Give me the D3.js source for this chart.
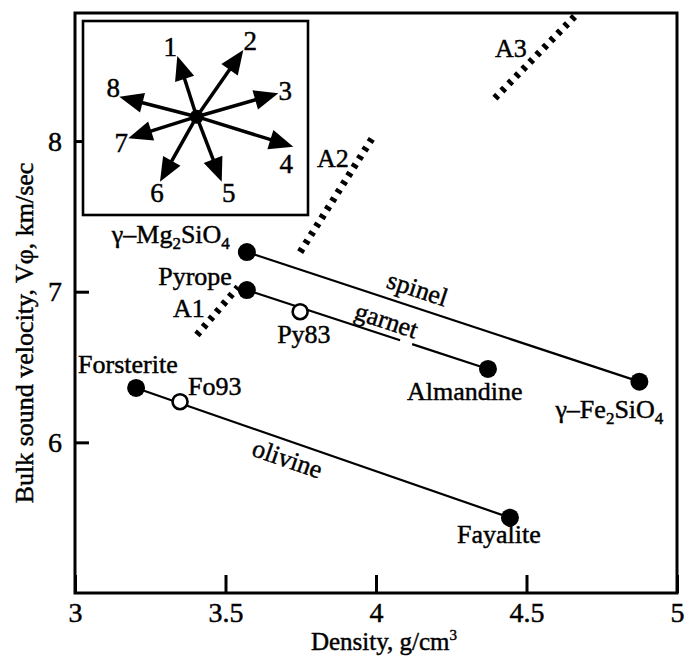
<!DOCTYPE html>
<html>
<head>
<meta charset="utf-8">
<script src="https://cdn.jsdelivr.net/npm/d3@7"></script>
<style>
  html, body { margin: 0; padding: 0; background: #fff; }
  svg { display: block; }
  text { font-family: 'Liberation Serif', 'DejaVu Serif', serif; fill: #000; stroke: #000; stroke-width: 0.45px; }
</style>
</head>
<body>
<div id="canvas"></div>
<script>
/*
 * Data
 *
 */
// end members and intermediate compositions: density (g/cm3), bulk sound velocity (km/s)
const minerals = ['γ–Mg_2SiO_4', 'Pyrope', 'Py83', 'Forsterite', 'Fo93', 'Almandine', 'γ–Fe_2SiO_4', 'Fayalite'];
const density  = [3.571, 3.571, 3.748, 3.203, 3.349, 4.372, 4.875, 4.445];
const velocity = [7.263, 7.011, 6.867, 6.361, 6.270, 6.487, 6.403, 5.500];
const filled   = [true, true, false, true, false, true, true, true];

// solid solution joins (indexes into minerals)
const joinNames = ['spinel', 'garnet', 'olivine'];
const joinFrom = [0, 1, 3];
const joinTo = [6, 5, 7];

// thick dashed trends A1..A3, [density, velocity] at each end
const trendNames = ['A1', 'A2', 'A3'];
const trendStart = [[3.405, 6.713], [3.748, 7.263], [4.395, 8.285]];
const trendEnd   = [[3.542, 7.031], [3.990, 8.027], [4.671, 8.850]];

// inset: direction arrows, components in inset units
const arrowLabels = ['1', '2', '3', '4', '5', '6', '7', '8'];
const arrowDX = [-0.194, 0.466, 0.816, 0.966, 0.250, -0.367, -0.684, -0.774];
const arrowDY = [0.607, 0.667, 0.234, -0.300, -0.650, -0.650, -0.216, 0.200];

const xTicks = [3, 3.5, 4, 4.5, 5];
const yTicks = [6, 7, 8];

/*
 * Layout
 *
 */
const margin = { top: 13, left: 75, right: 13, bottom: 67 };
const svgWidth = 690,
  svgHeight = 660,
  width = svgWidth - margin.left - margin.right,
  height = svgHeight - margin.top - margin.bottom;

const svg = d3.select('#canvas').append('svg')
  .attr('width', svgWidth)
  .attr('height', svgHeight);

const g = svg.append('g')
  .attr('transform', `translate(${margin.left}, ${margin.top})`);

const xScale = d3.scaleLinear().domain([3, 5]).range([0, width]);
const yScale = d3.scaleLinear().domain([5, 8.85]).range([height, 0]);

// label offsets (px) from each point
const labelPos = [
  { dx: -17, dy: -9, anchor: 'end' },
  { dx: -15, dy: -5, anchor: 'end' },
  { dx: -23, dy: 31, anchor: 'start' },
  { dx: -58, dy: -15, anchor: 'start' },
  { dx: 8, dy: -7, anchor: 'start' },
  { dx: -81, dy: 31, anchor: 'start' },
  { dx: -84, dy: 36, anchor: 'start' },
  { dx: -53, dy: 25, anchor: 'start' }
];
// where the join labels sit: fraction along the line, baseline offset
const joinLabelPos = [{ t: 0.42, off: -10 }, { t: 0.56, off: -6 }, { t: 0.42, off: 26 }];
const trendLabelPos = [{ dx: -24, dy: -18, end: false }, { dx: -56, dy: 30, end: true }, { dx: 0, dy: -41, end: false }];

/*
 * Axes
 *
 */
const xAxis = g.append('g')
  .attr('transform', `translate(0,${height})`)
  .call(d3.axisBottom(xScale).tickValues(xTicks).tickSize(-18).tickPadding(9)
    .tickFormat(d3.format('')));
const yAxis = g.append('g')
  .call(d3.axisLeft(yScale).tickValues(yTicks).tickSize(-14).tickPadding(13)
    .tickFormat(d3.format('')));

[xAxis, yAxis].forEach(a => {
  a.select('.domain').remove();
  a.selectAll('line').attr('stroke', '#000').attr('stroke-width', 3);
  a.selectAll('text')
    .style('font-family', "'Liberation Serif', serif")
    .style('font-size', '28px')
    .attr('fill', '#000');
});

g.append('rect')
  .attr('width', width)
  .attr('height', height)
  .attr('fill', 'none')
  .attr('stroke', '#000')
  .attr('stroke-width', 3);

svg.append('text')
  .attr('x', margin.left + 309)
  .attr('y', 650)
  .attr('text-anchor', 'middle')
  .style('font-size', '25px')
  .text('Density, g/cm')
  .append('tspan')
  .attr('dy', -10)
  .style('font-size', '15px')
  .text('3');

svg.append('text')
  .attr('transform', 'translate(33,333) rotate(-90)')
  .attr('text-anchor', 'middle')
  .style('font-size', '26px')
  .text('Bulk sound velocity, Vφ, km/sec');

/*
 * Dashed trends
 *
 */
const trends = g.append('g');
trendNames.forEach((name, i) => {
  trends.append('line')
    .attr('x1', xScale(trendStart[i][0]))
    .attr('y1', yScale(trendStart[i][1]))
    .attr('x2', xScale(trendEnd[i][0]))
    .attr('y2', yScale(trendEnd[i][1]))
    .attr('stroke', '#000')
    .attr('stroke-width', 7)
    .attr('stroke-dasharray', '4,6');
  const p = trendLabelPos[i];
  const ref = p.end ? trendEnd[i] : trendStart[i];
  trends.append('text')
    .attr('x', xScale(ref[0]) + p.dx)
    .attr('y', yScale(ref[1]) + p.dy)
    .style('font-size', '26px')
    .text(name);
});

/*
 * Solid solution joins
 *
 */
const garnetGap = [4.08, 4.12];
const joinsG = g.append('g');
joinNames.forEach((name, i) => {
  const a = joinFrom[i], b = joinTo[i];
  const x1 = xScale(density[a]), y1 = yScale(velocity[a]);
  const x2 = xScale(density[b]), y2 = yScale(velocity[b]);
  const line = joinsG.append('line')
    .attr('x1', x1).attr('y1', y1).attr('x2', x2).attr('y2', y2)
    .attr('stroke', '#000')
    .attr('stroke-width', 2.2);
  if (name === 'garnet') {
    const len = Math.hypot(x2 - x1, y2 - y1);
    const s = (xScale(garnetGap[0]) - x1) / (x2 - x1) * len;
    const e = (xScale(garnetGap[1]) - x1) / (x2 - x1) * len;
    line.attr('stroke-dasharray', `${s},${e - s},${len}`);
  }
  const ang = Math.atan2(y2 - y1, x2 - x1) * 180 / Math.PI;
  const p = joinLabelPos[i];
  const cx = x1 + p.t * (x2 - x1), cy = y1 + p.t * (y2 - y1);
  joinsG.append('text')
    .attr('transform', `translate(${cx},${cy}) rotate(${ang}) translate(0,${p.off})`)
    .attr('text-anchor', 'middle')
    .style('font-size', '26px')
    .text(name);
});

/*
 * Points and their labels
 *
 */
const pts = g.append('g');
pts.selectAll('circle')
  .data(minerals)
  .enter()
  .append('circle')
  .attr('cx', (d, i) => xScale(density[i]))
  .attr('cy', (d, i) => yScale(velocity[i]))
  .attr('r', (d, i) => filled[i] ? 9 : 7.5)
  .attr('fill', (d, i) => filled[i] ? '#000' : '#fff')
  .attr('stroke', '#000')
  .attr('stroke-width', (d, i) => filled[i] ? 0 : 2.6);

minerals.forEach((name, i) => {
  const p = labelPos[i];
  const t = pts.append('text')
    .attr('x', xScale(density[i]) + p.dx)
    .attr('y', yScale(velocity[i]) + p.dy)
    .attr('text-anchor', p.anchor)
    .style('font-size', '26px');
  // "_n" marks a subscript
  const parts = name.split(/_(\d)/);
  let shifted = false;
  parts.forEach((s, k) => {
    if (s === '') return;
    const sub = k % 2 === 1;
    const ts = t.append('tspan').text(s);
    if (sub) { ts.attr('dy', 6).style('font-size', '17px'); shifted = true; }
    else if (shifted) { ts.attr('dy', -6); shifted = false; }
  });
});

/*
 * Inset with direction arrows
 *
 */
const inset = { x: 8, y: 8, w: 225, h: 194, cx: 121.7, cy: 103.7 };
const insetG = g.append('g');
insetG.append('rect')
  .attr('x', inset.x).attr('y', inset.y)
  .attr('width', inset.w).attr('height', inset.h)
  .attr('fill', '#fff')
  .attr('stroke', '#000')
  .attr('stroke-width', 2.6);

const ix = d3.scaleLinear().domain([-1, 1]).range([inset.cx - 100, inset.cx + 100]);
const iy = d3.scaleLinear().domain([-1, 1]).range([inset.cy + 100, inset.cy - 100]);
const headLen = 24, headHalf = 10;
const arrowLabelNudge = [[-7, -9], [7, -9], [7, -3], [-7, 17], [7, 11], [-3, 11], [-7, 4], [-6, -9]];

arrowLabels.forEach((lab, i) => {
  const x0 = ix(0), y0 = iy(0);
  const tx = ix(arrowDX[i]), ty = iy(arrowDY[i]);
  const len = Math.hypot(tx - x0, ty - y0);
  const ux = (tx - x0) / len, uy = (ty - y0) / len;
  const bx = tx - ux * headLen, by = ty - uy * headLen;
  insetG.append('line')
    .attr('x1', x0).attr('y1', y0).attr('x2', bx + ux * 2).attr('y2', by + uy * 2)
    .attr('stroke', '#000')
    .attr('stroke-width', 3.5);
  insetG.append('path')
    .attr('d', `M${tx},${ty}L${bx - uy * headHalf},${by + ux * headHalf}L${bx + uy * headHalf},${by - ux * headHalf}Z`)
    .attr('fill', '#000');
  insetG.append('text')
    .attr('x', tx + arrowLabelNudge[i][0])
    .attr('y', ty + arrowLabelNudge[i][1])
    .attr('dy', '0.35em')
    .attr('text-anchor', 'middle')
    .style('font-size', '27px')
    .text(lab);
});
insetG.append('circle')
  .attr('cx', ix(0)).attr('cy', iy(0))
  .attr('r', 7)
  .attr('fill', '#000');
</script>
</body>
</html>
